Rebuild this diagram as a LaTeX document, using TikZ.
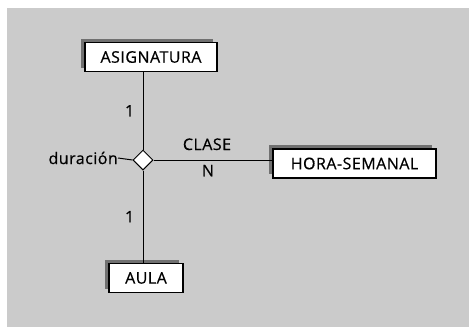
\documentclass[tikz,border=0pt]{standalone}
\usepackage{fontspec}
\setmainfont{Open Sans}[LetterSpace=3, FakeBold=0.5]
\usetikzlibrary{shapes.geometric,shadows}
\definecolor{fondo}{RGB}{203,203,203}
\definecolor{sombra}{RGB}{112,112,112}
\tikzset{
  entidad/.style={ draw, line width=1.1pt, fill=white, minimum height=29pt, inner sep=0pt,
    drop shadow={shadow xshift=-4pt, shadow yshift=4pt, fill=sombra, opacity=1} }
}
\tikzset{
  relacion/.style={ draw, diamond, line width=1pt, fill=white, minimum width=20pt, minimum height=20pt, inner sep=0pt }
}
\tikzset{
  linea/.style={ line width=1pt }
}
\begin{document}
\begin{tikzpicture}[x=1pt, y=-1pt, font=\fontsize{16}{19}\selectfont]
      \useasboundingbox (0,0) rectangle (469,327);
      \fill[fondo] (7,8) rectangle (469,327);

      \node[entidad, minimum width=132pt] (asig) at (151, 57) {ASIGNATURA};
      \node[relacion] (clase) at (143, 160) {};
      \node[entidad, minimum width=163pt] (hora) at (354.5, 163.5) {HORA-SEMANAL};
      \node[entidad, minimum width=74pt] (aula) at (146, 278) {AULA};
      \node[anchor=east, inner sep=0pt] (dur) at (118, 158) {duración};

      \draw[linea] (clase.north) -- node[midway, left=5pt] {1} (clase.north |- asig.south);
      \draw[linea] (clase.south) -- node[midway, left=5pt] {1} (clase.south |- aula.north);
      \draw[linea] (clase.east) -- node[midway, above=6pt, xshift=-6pt] {CLASE}
                                   node[midway, below=1pt, xshift=-5pt] {N} (clase.east -| hora.west);
      \draw[linea] (dur.east) -- (clase.west);
    \end{tikzpicture}
\end{document}
